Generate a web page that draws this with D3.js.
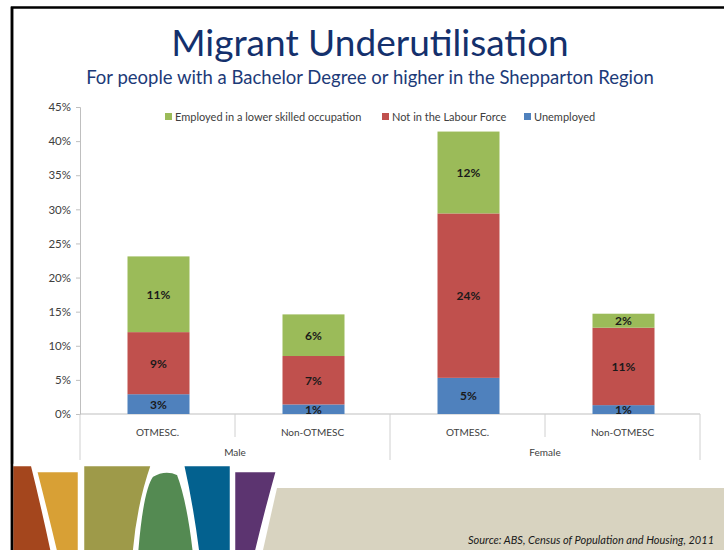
<!DOCTYPE html>
<html>
<head>
<meta charset="utf-8">
<script src="https://cdn.jsdelivr.net/npm/d3@7/dist/d3.min.js"></script>
<style>
  body { margin: 0; background: #fff; }
  svg { display: block; font-family: Lato, "Open Sans", sans-serif; }
</style>
</head>
<body>
<svg id="chart" width="724" height="550"></svg>
<script>
// chart values (percent)
const genders = ["Male", "Female"];
const groups = ["OTMESC.", "Non-OTMESC"];
const unemployed = [2.9, 1.4, 5.3, 1.3];
const notInLabourForce = [9.1, 7.1, 24.1, 11.35];
const lowerSkilled = [11.1, 6.1, 12.0, 2.05];
const valueLabels = [
  ["3%", "1%", "5%", "1%"],
  ["9%", "7%", "24%", "11%"],
  ["11%", "6%", "12%", "2%"]
];
const seriesNames = ["Employed in a lower skilled occupation", "Not in the Labour Force", "Unemployed"];
const yTicks = [0, 5, 10, 15, 20, 25, 30, 35, 40, 45];

const colors = { unemployed: "#4f81bd", notInLabourForce: "#c0504d", lowerSkilled: "#9bbb59" };

const svg = d3.select("#chart");

// slide frame
svg.append("path")
  .attr("d", "M12,550 L12,7.5 L724,7.5")
  .attr("fill", "none")
  .attr("stroke", "#000")
  .attr("stroke-width", 2.5);

// titles
svg.append("text")
  .attr("x", 370).attr("y", 56)
  .attr("text-anchor", "middle")
  .attr("fill", "#14306c")
  .style("font-size", "37px")
  .text("Migrant Underutilisation");

svg.append("text")
  .attr("x", 370).attr("y", 84)
  .attr("text-anchor", "middle")
  .attr("fill", "#1c3a78")
  .style("font-size", "18.5px")
  .text("For people with a Bachelor Degree or higher in the Shepparton Region");

// build the rows
const cats = [];
genders.forEach(g => groups.forEach(s => cats.push(g + "|" + s)));
const rows = cats.map((c, i) => ({
  key: c,
  unemployed: unemployed[i],
  notInLabourForce: notInLabourForce[i],
  lowerSkilled: lowerSkilled[i]
}));
const keys = ["unemployed", "notInLabourForce", "lowerSkilled"];
const stacked = d3.stack().keys(keys)(rows);

const x = d3.scaleBand().domain(cats).range([80, 700]).paddingInner(0).paddingOuter(0);
const y = d3.scaleLinear().domain([0, 45]).range([414, 107]);

// y axis
const yAxis = svg.append("g")
  .attr("transform", "translate(80,0)")
  .call(d3.axisLeft(y).tickValues(yTicks).tickSize(4).tickFormat(d => d + "%"));
yAxis.select(".domain").attr("stroke", "#bfbfbf");
yAxis.selectAll(".tick line").attr("stroke", "#bfbfbf");
yAxis.selectAll(".tick text")
  .attr("x", -9)
  .attr("fill", "#404040")
  .style("font-size", "11.5px")
  .style("font-family", "Lato, sans-serif");

// x axis lines
const xg = svg.append("g");
xg.append("line").attr("x1", 80).attr("x2", 700).attr("y1", 414).attr("y2", 414).attr("stroke", "#bfbfbf");
cats.forEach((c, i) => {
  const left = x(c);
  const long = i % 2 === 0;
  xg.append("line")
    .attr("x1", left).attr("x2", left)
    .attr("y1", 414).attr("y2", long ? 460 : 437)
    .attr("stroke", "#d0d0d0");
});
xg.append("line").attr("x1", 700).attr("x2", 700).attr("y1", 414).attr("y2", 460).attr("stroke", "#d0d0d0");

xg.selectAll("text.cat")
  .data(cats)
  .enter().append("text")
  .attr("class", "cat")
  .attr("x", d => x(d) + x.bandwidth() / 2)
  .attr("y", 436)
  .attr("text-anchor", "middle")
  .attr("fill", "#404040")
  .style("font-size", "10px")
  .text(d => d.split("|")[1]);

xg.selectAll("text.gender")
  .data(genders)
  .enter().append("text")
  .attr("class", "gender")
  .attr("x", d => x(d + "|" + groups[0]) + x.bandwidth())
  .attr("y", 456)
  .attr("text-anchor", "middle")
  .attr("fill", "#404040")
  .style("font-size", "10px")
  .text(d => d);

// bars
const barW = 62;
const layers = svg.append("g").selectAll("g")
  .data(stacked)
  .enter().append("g")
  .attr("fill", d => colors[d.key]);

layers.selectAll("rect")
  .data(d => d)
  .enter().append("rect")
  .attr("x", d => x(d.data.key) + x.bandwidth() / 2 - barW / 2 + 1)
  .attr("width", barW)
  .attr("y", d => y(d[1]))
  .attr("height", d => y(d[0]) - y(d[1]));

// value labels
stacked.forEach((layer, li) => {
  svg.append("g").selectAll("text")
    .data(layer)
    .enter().append("text")
    .attr("x", d => x(d.data.key) + x.bandwidth() / 2 + 1)
    .attr("y", d => (y(d[0]) + y(d[1])) / 2 + 4.5)
    .attr("text-anchor", "middle")
    .attr("fill", "#1a1a1a")
    .style("font-size", "12px")
    .style("font-weight", "bold")
    .text((d, i) => valueLabels[li][i]);
});

// legend
const legendColors = [colors.lowerSkilled, colors.notInLabourForce, colors.unemployed];
const legendX = [165, 382, 524];
const legend = svg.append("g");
seriesNames.forEach((n, i) => {
  legend.append("rect")
    .attr("x", legendX[i]).attr("y", 113)
    .attr("width", 7).attr("height", 7)
    .attr("fill", legendColors[i]);
  legend.append("text")
    .attr("x", legendX[i] + 10).attr("y", 120.5)
    .attr("fill", "#404040")
    .style("font-size", "11px")
    .text(n);
});

// footer decoration
const deco = svg.append("g");
deco.append("path")
  .attr("d", "M277,488 L724,488 L724,550 L263,550 Z")
  .attr("fill", "#d8d3c0");
const shapes = [
  ["#a4461d", "M12,465 L32,465 Q42,505 52,552 L12,552 Z"],
  ["#d8a035", "M36,471 L79,471 L79,552 L56,552 Q46,510 36,471 Z"],
  ["#9e9a49", "M83,465 L152,465 Q138,505 134,552 L83,552 Z"],
  ["#548a52", "M137,552 Q142,490 152,476 Q165,468 178,474 Q188,500 194,552 Z"],
  ["#03618f", "M183,465 L231,465 L231,552 L198,552 Q192,505 183,465 Z"],
  ["#5c3470", "M234,471 L277,471 Q266,510 256,552 L234,552 Z"]
];
deco.selectAll("path.leaf")
  .data(shapes)
  .enter().append("path")
  .attr("class", "leaf")
  .attr("d", d => d[1])
  .attr("fill", d => d[0])
  .attr("stroke", "#fff")
  .attr("stroke-width", 2.5);

// redraw left frame over the shapes
svg.append("line")
  .attr("x1", 12).attr("x2", 12).attr("y1", 7).attr("y2", 550)
  .attr("stroke", "#000").attr("stroke-width", 2.5);

svg.append("text")
  .attr("x", 468).attr("y", 544)
  .attr("fill", "#1a1a1a")
  .style("font-size", "11px")
  .style("font-style", "italic")
  .text("Source: ABS, Census of Population and Housing, 2011");
</script>
</body>
</html>
